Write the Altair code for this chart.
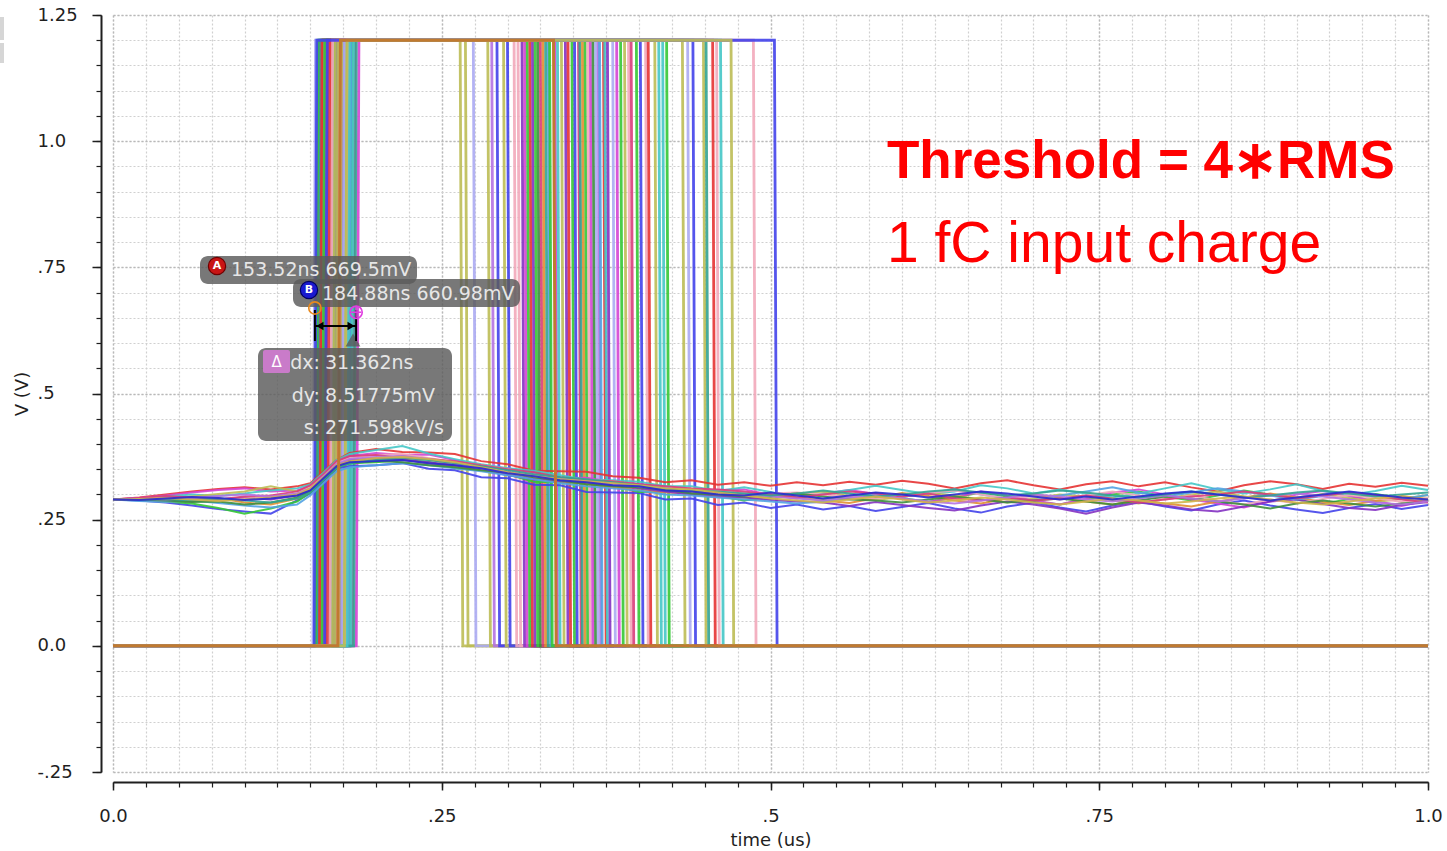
import altair as alt
import pandas as pd

# ---------------------------------------------------------------------------
# Monte-Carlo discriminator output: one rectangular pulse per run (time in us)
# ---------------------------------------------------------------------------
HIGH_V = 1.2
EDGE_US = 0.002

rise_us = [
    0.166, 0.158, 0.152, 0.161, 0.170, 0.155, 0.177, 0.163, 0.168, 0.160,
    0.175, 0.157, 0.164, 0.171, 0.159, 0.180, 0.166, 0.162, 0.169, 0.156,
    0.174, 0.165, 0.171, 0.178, 0.167, 0.163, 0.172, 0.158, 0.170, 0.164,
    0.182, 0.161, 0.168, 0.176, 0.159, 0.185, 0.160, 0.162, 0.167, 0.179,
    0.157, 0.169, 0.173, 0.164, 0.160, 0.166, 0.175, 0.163, 0.170, 0.154,
    0.168, 0.177, 0.162, 0.172, 0.165, 0.181, 0.159, 0.167, 0.174, 0.161,
    0.169, 0.183, 0.164, 0.171, 0.178, 0.165, 0.153, 0.176,
]
fall_us = [
    0.264, 0.268, 0.274, 0.285, 0.288, 0.292, 0.297, 0.300, 0.305, 0.308,
    0.311, 0.313, 0.315, 0.317, 0.319, 0.321, 0.323, 0.325, 0.327, 0.329,
    0.331, 0.332, 0.335, 0.336, 0.338, 0.341, 0.344, 0.346, 0.349, 0.351,
    0.354, 0.355, 0.357, 0.359, 0.361, 0.363, 0.365, 0.367, 0.369, 0.370,
    0.373, 0.374, 0.376, 0.380, 0.383, 0.386, 0.389, 0.392, 0.394, 0.398,
    0.401, 0.405, 0.407, 0.412, 0.415, 0.418, 0.421, 0.433, 0.437, 0.441,
    0.449, 0.451, 0.456, 0.459, 0.462, 0.487, 0.503, 0.470,
]

BL, RD, GR, MG = "#4343ea", "#e53333", "#35c835", "#d444d4"
CY, OL, OR, PU = "#45c6c6", "#bdbd55", "#e28e32", "#8432c2"
PK, LV, BR, DG = "#f2a9ba", "#abaaf2", "#c07a30", "#3d8e3d"
CR, SK, TL, VI = "#d93d7a", "#52a2e2", "#33a392", "#b472e2"
KH, NV = "#d2b44a", "#2a2ad0"

pulse_colors = [
    OL, OL, LV, OL, VI, BL, OL, BL, PK, PK,
    PU, MG, GR, RD, PU, GR, DG, CR, OR, TL,
    SK, GR, BR, MG, CY, OL, PU, RD, GR, BL,
    CR, TL, OR, GR, PK, MG, DG, LV, VI, SK,
    RD, CY, PU, LV, MG, GR, OL, PK, CR, GR,
    BL, PK, RD, OL, CY, CY, GR, OL, LV, BL,
    OL, TL, RD, PK, CY, PK, BL, OL,
]

# ---------------------------------------------------------------------------
# Shaper output traces (mV) on a common time grid (us)
# ---------------------------------------------------------------------------
trace_t_us = [
    0.00, 0.02, 0.04, 0.06, 0.08, 0.10, 0.12, 0.14, 0.15, 0.16, 0.17,
    0.18, 0.20, 0.22, 0.24, 0.26, 0.28, 0.30, 0.32, 0.34, 0.36,
    0.38, 0.40, 0.42, 0.44, 0.46, 0.48, 0.50, 0.52, 0.54, 0.56,
    0.58, 0.60, 0.62, 0.64, 0.66, 0.68, 0.70, 0.72, 0.74, 0.76,
    0.78, 0.80, 0.82, 0.84, 0.86, 0.88, 0.90, 0.92, 0.94, 0.96,
    0.98, 1.00,
]

trace_mv = [
    [290, 288, 284, 278, 271, 266, 262, 288, 302, 327, 352,
     356, 358, 362, 351, 348, 334, 332, 319, 318, 305,
     304, 303, 290, 292, 279, 284, 273, 280, 270, 277,
     267, 275, 283, 272, 264, 276, 284, 274, 266, 278,
     286, 276, 268, 280, 288, 278, 270, 263, 273, 281,
     271, 279],
    [290, 294, 300, 306, 311, 314, 310, 316, 322, 345, 368,
     382, 390, 384, 383, 380, 366, 360, 347, 346, 345,
     336, 333, 324, 328, 319, 324, 317, 324, 318, 325,
     319, 327, 321, 312, 322, 328, 318, 310, 320, 326,
     316, 324, 314, 306, 318, 326, 320, 311, 321, 315,
     323, 317],
    [290, 289, 286, 282, 273, 262, 272, 286, 304, 329, 356,
     362, 364, 368, 365, 352, 348, 340, 325, 324, 321,
     318, 305, 306, 308, 297, 288, 295, 302, 290, 295,
     303, 293, 285, 294, 304, 296, 286, 280, 290, 300,
     306, 296, 288, 298, 308, 300, 290, 281, 291, 301,
     293, 285],
    [290, 293, 298, 304, 309, 312, 306, 308, 318, 339, 364,
     376, 382, 378, 379, 368, 356, 352, 341, 332, 333,
     324, 321, 312, 302, 309, 310, 299, 292, 302, 309,
     301, 291, 285, 294, 306, 298, 288, 280, 292, 304,
     310, 300, 290, 282, 274, 286, 300, 307, 297, 287,
     277, 289],
    [290, 292, 296, 300, 297, 302, 308, 312, 320, 343, 368,
     380, 388, 396, 381, 370, 360, 352, 347, 338, 329,
     328, 325, 316, 316, 307, 314, 305, 294, 302, 309,
     317, 309, 301, 306, 318, 312, 302, 310, 302, 294,
     302, 312, 322, 310, 302, 310, 320, 307, 299, 307,
     317, 309],
    [290, 290, 292, 296, 301, 306, 316, 306, 312, 335, 358,
     366, 370, 376, 369, 358, 352, 340, 331, 330, 321,
     318, 313, 308, 306, 299, 294, 291, 300, 306, 297,
     289, 295, 303, 298, 290, 284, 292, 300, 296, 288,
     282, 292, 300, 306, 296, 288, 294, 301, 293, 285,
     291, 299],
    [290, 289, 286, 288, 293, 284, 280, 292, 306, 331, 354,
     362, 368, 370, 361, 356, 348, 344, 335, 326, 321,
     314, 309, 304, 302, 295, 294, 301, 294, 288, 283,
     293, 303, 297, 288, 282, 292, 300, 294, 286, 280,
     288, 282, 276, 286, 294, 302, 294, 285, 279, 287,
     297, 291],
    [290, 292, 289, 286, 290, 294, 290, 298, 310, 334, 358,
     368, 372, 368, 364, 358, 350, 338, 330, 326, 324,
     318, 312, 306, 300, 296, 294, 289, 286, 284, 277,
     285, 279, 273, 268, 278, 286, 280, 272, 262, 274,
     284, 278, 270, 266, 276, 286, 290, 281, 273, 269,
     279, 285],
    [290, 287, 285, 288, 283, 278, 274, 280, 298, 322, 346,
     354, 358, 362, 358, 352, 346, 338, 330, 322, 316,
     312, 308, 300, 298, 294, 290, 286, 282, 286, 293,
     301, 295, 303, 310, 300, 292, 288, 298, 306, 314,
     304, 296, 304, 312, 306, 298, 290, 297, 305, 299,
     291, 299],
    [290, 292, 294, 291, 288, 292, 296, 302, 316, 338, 364,
     372, 378, 380, 372, 364, 358, 350, 340, 332, 328,
     326, 318, 314, 312, 308, 304, 302, 304, 300, 296,
     292, 296, 303, 308, 300, 292, 296, 290, 298, 306,
     298, 290, 298, 288, 280, 290, 282, 291, 299, 293,
     285, 293],
    [290, 290, 288, 285, 286, 280, 284, 294, 306, 328, 352,
     362, 366, 364, 358, 354, 348, 344, 334, 328, 320,
     316, 314, 310, 302, 300, 296, 298, 302, 296, 290,
     288, 284, 290, 296, 290, 284, 288, 292, 286, 280,
     288, 296, 292, 286, 280, 272, 282, 288, 282, 276,
     282, 286],
    [290, 293, 297, 294, 290, 296, 298, 306, 318, 340, 366,
     376, 378, 372, 370, 366, 358, 350, 344, 334, 328,
     326, 320, 316, 312, 310, 306, 300, 294, 300, 306,
     302, 296, 302, 292, 288, 294, 288, 292, 298, 292,
     284, 290, 296, 300, 306, 300, 292, 298, 304, 298,
     290, 284],
    [290, 291, 290, 293, 297, 300, 296, 302, 312, 336, 360,
     370, 374, 376, 370, 362, 352, 344, 338, 332, 326,
     320, 316, 312, 308, 304, 300, 296, 292, 288, 294,
     298, 292, 286, 282, 288, 294, 300, 296, 290, 286,
     292, 298, 292, 286, 292, 298, 302, 296, 290, 284,
     280, 286],
    [290, 289, 291, 289, 292, 288, 284, 292, 304, 328, 352,
     362, 368, 372, 368, 362, 356, 348, 340, 334, 330,
     324, 318, 312, 308, 306, 302, 298, 302, 308, 302,
     296, 300, 306, 310, 304, 298, 302, 308, 304, 298,
     294, 300, 306, 300, 294, 298, 304, 308, 302, 296,
     300, 304],
    [290, 291, 293, 290, 287, 290, 294, 300, 312, 334, 358,
     366, 372, 374, 370, 364, 354, 344, 336, 330, 326,
     322, 318, 312, 310, 304, 298, 292, 288, 284, 290,
     296, 290, 284, 288, 294, 290, 284, 280, 286, 292,
     288, 282, 286, 292, 296, 290, 284, 280, 286, 292,
     296, 290],
    [290, 289, 292, 295, 293, 289, 292, 298, 308, 332, 356,
     364, 366, 368, 362, 358, 352, 342, 336, 328, 324,
     318, 316, 308, 306, 300, 298, 304, 298, 292, 298,
     304, 300, 294, 300, 306, 302, 296, 290, 296, 290,
     296, 302, 306, 300, 294, 288, 294, 300, 306, 300,
     294, 290],
]
trace_colors = [BL, RD, GR, MG, CY, OL, OR, PU, SK, PK, DG, CR, VI, TL, KH, NV]

# ---------------------------------------------------------------------------
# Cursor markers A and B, and the delta read-out
# ---------------------------------------------------------------------------
marker_t_us = [0.15352, 0.18488]
marker_v = [0.6695, 0.66098]
delta_keys = ["dx:", "dy:", "s:"]
delta_vals = ["31.362ns", "8.51775mV", "271.598kV/s"]

# ---------------------------------------------------------------------------
# Axis ticks
# ---------------------------------------------------------------------------
x_major = [0.0, 0.25, 0.5, 0.75, 1.0]
x_major_labels = ["0.0", ".25", ".5", ".75", "1.0"]
y_major = [-0.25, 0.0, 0.25, 0.5, 0.75, 1.0, 1.25]
y_major_labels = ["-.25", "0.0", ".25", ".5", ".75", "1.0", "1.25"]
x_minor = [i / 40 for i in range(41)]
y_minor = [-0.25 + i / 20 for i in range(31)]

assert len(rise_us) == len(fall_us) == len(pulse_colors)
assert len(trace_mv) == len(trace_colors)
assert all(len(tr) == len(trace_t_us) for tr in trace_mv)


def label_expr(vals, labels):
    parts = [f"abs(datum.value - ({v})) < 1e-6 ? '{l}'" for v, l in zip(vals, labels)]
    return " : ".join(parts) + " : ''"


# ---- tables ----
pulse_rows = []
for i, (r, f, c) in enumerate(zip(rise_us, fall_us, pulse_colors)):
    pts = [(0.0, 0.0), (r, 0.0), (r + EDGE_US, HIGH_V), (f, HIGH_V), (f + EDGE_US, 0.0), (1.0, 0.0)]
    for k, (t, v) in enumerate(pts):
        pulse_rows.append({"run": i, "k": k, "t": t, "v": v, "c": c})
pulses = pd.DataFrame(pulse_rows)
front = pulses["c"] == BR
pulses_back = pulses[~front]
pulses_front = pulses[front]

trace_rows = []
for j, (tr, c) in enumerate(zip(trace_mv, trace_colors)):
    for k, (t, mv) in enumerate(zip(trace_t_us, tr)):
        trace_rows.append({"run": j, "k": k, "t": t, "v": mv / 1000.0, "c": c})
traces = pd.DataFrame(trace_rows)

markers = pd.DataFrame({"t": marker_t_us, "v": marker_v, "name": ["A", "B"]})
span = pd.DataFrame({"t": [marker_t_us[0]], "t2": [marker_t_us[1]]})
frame = pd.DataFrame({"t": [0.0, 1.0], "v": [-0.25, 1.25]})
one = pd.DataFrame({"k": [0]})

XS = alt.Scale(domain=[0, 1], nice=False, zero=False)
YS = alt.Scale(domain=[-0.25, 1.25], nice=False, zero=False)
FONT = "DejaVu Sans"
INK = "#1f1f1f"
X_NA = alt.X("t:Q", scale=XS, axis=None)
Y_NA = alt.Y("v:Q", scale=YS, axis=None)

# ---- axes: minor grid/ticks, then labelled major grid/ticks ----
minor_axes = alt.Chart(frame).mark_point(opacity=0).encode(
    x=alt.X("t:Q", scale=XS, axis=alt.Axis(
        orient="bottom", values=x_minor, offset=10, tickSize=5, tickColor=INK,
        tickWidth=1.2, labels=False, domain=False, grid=True, gridColor="#d0d0d0",
        gridDash=[2, 2], gridWidth=1.2, title=None)),
    y=alt.Y("v:Q", scale=YS, axis=alt.Axis(
        orient="left", values=y_minor, offset=12, tickSize=5, tickColor=INK,
        tickWidth=1.2, labels=False, domain=False, grid=True, gridColor="#d0d0d0",
        gridDash=[2, 2], gridWidth=1.2, title=None)),
)

major_axes = alt.Chart(frame).mark_point(opacity=0).encode(
    x=alt.X("t:Q", scale=XS, axis=alt.Axis(
        orient="bottom", values=x_major, offset=10, tickSize=8, tickColor=INK,
        tickWidth=1.5, domain=True, domainColor=INK, domainWidth=2,
        grid=True, gridColor="#b9b9b9", gridDash=[2, 2], gridWidth=1.4,
        labelExpr=label_expr(x_major, x_major_labels), labelFont=FONT,
        labelFontSize=18, labelColor=INK, labelPadding=17, labelFlush=False,
        labelOverlap=False, title="time (us)", titleFont=FONT, titleFontSize=18,
        titleFontWeight="normal", titleColor=INK, titleY=58, titleBaseline="middle")),
    y=alt.Y("v:Q", scale=YS, axis=alt.Axis(
        orient="left", values=y_major, offset=12, tickSize=9, tickColor=INK,
        tickWidth=1.5, domain=True, domainColor=INK, domainWidth=2,
        grid=True, gridColor="#b9b9b9", gridDash=[2, 2], gridWidth=1.4,
        labelExpr=label_expr(y_major, y_major_labels), labelFont=FONT,
        labelFontSize=18, labelColor=INK, labelAlign="left", labelBaseline="middle",
        labelPadding=55, labelFlush=False, labelOverlap=False,
        title="V (V)", titleFont=FONT, titleFontSize=18, titleFontWeight="normal",
        titleColor=INK, titleX=-79, titleBaseline="middle")),
)

# ---- waveforms ----
pulse_back_layer = alt.Chart(pulses_back).mark_line(strokeWidth=2.8, opacity=0.9).encode(
    x=X_NA, y=Y_NA, detail="run:N", color=alt.Color("c:N", scale=None), order="k:Q")
trace_layer = alt.Chart(traces).mark_line(strokeWidth=2.0, opacity=0.9).encode(
    x=X_NA, y=Y_NA, detail="run:N", color=alt.Color("c:N", scale=None), order="k:Q")
pulse_front_layer = alt.Chart(pulses_front).mark_line(strokeWidth=3).encode(
    x=X_NA, y=Y_NA, detail="run:N", color=alt.Color("c:N", scale=None), order="k:Q")

# ---- cursor call-outs ----
BOX = "#5a5a5a"
TXT = "#e6e6e6"


def box(x0, x1, y0, y1, radius=8, fill=BOX, opacity=0.82):
    return alt.Chart(one).mark_rect(cornerRadius=radius, color=fill, opacity=opacity).encode(
        x=alt.value(x0), x2=alt.value(x1), y=alt.value(y0), y2=alt.value(y1))


def text(s, x, y, size=19, color=TXT, align="left", weight="normal", font=FONT, baseline="middle"):
    return alt.Chart(one).mark_text(
        text=s, align=align, baseline=baseline, font=font, fontSize=size,
        fontWeight=weight, color=color).encode(x=alt.value(x), y=alt.value(y))


def badge(x, y, fill, edge):
    return alt.Chart(one).mark_point(
        shape="circle", filled=True, size=300, color=fill, stroke=edge,
        strokeWidth=1.2, opacity=1).encode(x=alt.value(x), y=alt.value(y))


label_a = f"{marker_t_us[0] * 1000:.2f}ns {marker_v[0] * 1000:.1f}mV"
label_b = f"{marker_t_us[1] * 1000:.2f}ns {marker_v[1] * 1000:.2f}mV"

callouts = [
    box(87, 304, 241, 269),
    badge(104, 251, "#c81414", "#6e0000"),
    text("A", 104, 251, size=11, color="white", align="center", weight="bold"),
    text(label_a, 118, 255),
    box(180, 407, 264, 292),
    badge(196, 275, "#1a1ad0", "#000060"),
    text("B", 196, 275, size=11, color="white", align="center", weight="bold"),
    text(label_b, 209, 279),
    box(145, 339, 333, 426),
    alt.Chart(one).mark_point(shape="triangle-up", filled=True, size=220, color=BOX,
                              opacity=0.82).encode(x=alt.value(240), y=alt.value(325)),
    box(150, 177, 335, 358, radius=2, fill="#c97bc9", opacity=1),
    text("Δ", 163.5, 347, size=15, color="white", align="center"),
]
for i, (k, v) in enumerate(zip(delta_keys, delta_vals)):
    callouts.append(text(k, 207, 348 + 32.5 * i, align="right"))
    callouts.append(text(v, 212, 348 + 32.5 * i))

# ---- cursor geometry drawn from the marker values ----
cursor_bars = alt.Chart(markers).mark_rule(color="#000000", strokeWidth=2).encode(
    x=X_NA, y=alt.value(295), y2=alt.value(326))
cursor_span = alt.Chart(span).mark_rule(color="#000000", strokeWidth=2).encode(
    x=alt.X("t:Q", scale=XS, axis=None), x2="t2:Q", y=alt.value(311))
head_left = alt.Chart(markers[markers["name"] == "A"]).mark_point(
    shape="triangle-left", filled=True, size=70, color="#000000", xOffset=5, opacity=1).encode(
    x=X_NA, y=alt.value(311))
head_right = alt.Chart(markers[markers["name"] == "B"]).mark_point(
    shape="triangle-right", filled=True, size=70, color="#000000", xOffset=-5, opacity=1).encode(
    x=X_NA, y=alt.value(311))
marker_a = alt.Chart(markers[markers["name"] == "A"]).mark_point(
    shape="circle", filled=False, size=150, color="#e8891c", strokeWidth=1.6, opacity=1).encode(
    x=X_NA, y=Y_NA)
marker_b = alt.Chart(markers[markers["name"] == "B"]).mark_point(
    shape="circle", filled=False, size=150, color="#e03ce0", strokeWidth=1.6, opacity=1).encode(
    x=X_NA, y=Y_NA)
marker_b_cross = alt.Chart(markers[markers["name"] == "B"]).mark_point(
    shape="M -1 0 L 1 0 M 0 -1 L 0 1", filled=False, size=110, color="#e03ce0",
    strokeWidth=1.4, opacity=1).encode(x=X_NA, y=Y_NA)

# ---- headline notes ----
notes = [
    text("Threshold = 4∗RMS", 774, 163, size=53, color="#ff0000", weight="bold",
         font="Liberation Sans", baseline="alphabetic"),
    text("1 fC input charge", 774, 247, size=57, color="#ff0000",
         font="Liberation Sans", baseline="alphabetic"),
]

# ---- small window widget at the top-left corner ----
widget = [
    box(-113, -109, 2, 25, radius=0, fill="#d6d6d6", opacity=1),
    box(-113, -109, 28, 48, radius=0, fill="#d6d6d6", opacity=1),
]

chart = alt.layer(
    minor_axes, major_axes,
    pulse_back_layer, trace_layer, pulse_front_layer,
    *callouts,
    cursor_bars, cursor_span, head_left, head_right,
    marker_a, marker_b, marker_b_cross,
    *notes, *widget,
).resolve_axis(
    x="independent", y="independent"
).properties(
    width=1315, height=757,
    autosize=alt.AutoSizeParams(type="none"),
    padding={"left": 113, "top": 15, "right": 19, "bottom": 79},
    background="white",
).configure_view(stroke=None)

chart.save("out.html", embed_options={"renderer": "svg", "actions": False})
